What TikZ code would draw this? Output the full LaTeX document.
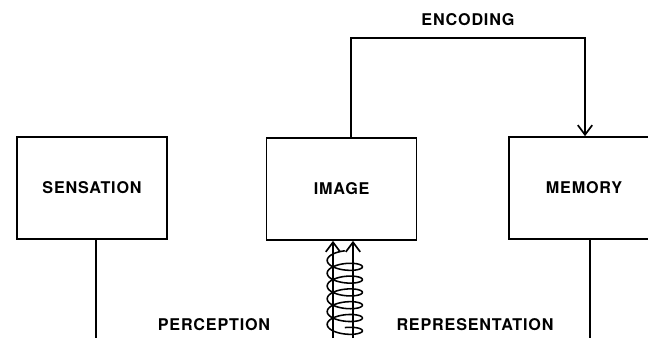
\documentclass[tikz,border=0pt]{standalone}
\usepackage{fontspec}
\setmainfont[LetterSpace=5]{TeX Gyre Heros}
\usetikzlibrary{arrows.meta, calc}

\begin{document}
\begin{tikzpicture}[>={Straight Barb[length=2.4mm,width=3.6mm]}, line width=1.2pt,
    box/.style={draw, minimum width=3.75cm, minimum height=2.55cm,
      font=\bfseries\fontsize{11.5}{13}\selectfont},
    lbl/.style={font=\bfseries\fontsize{11.5}{13}\selectfont}]
  \useasboundingbox (0,0) rectangle (16.2,8.45);

  % Die drei Kästen
  \node[box] (sens) at (2.3,3.75) {SENSATION};
  \node[box] (img) at (8.54,3.725) {IMAGE};
  \node[box] (mem) at (14.6,3.75) {MEMORY};

  % Hilfspunkte für die Leitungen
  \coordinate (s-end) at (2.4,0);
  \coordinate (m-end) at (14.75,0);
  \coordinate (enc-l) at (8.775,7.5);
  \coordinate (enc-r) at (14.625,7.5);
  \coordinate (c1) at (8.325,0);
  \coordinate (c2) at (8.825,0);

  % Leitungen nach unten
  \draw (sens.south -| s-end) -- (s-end);
  \draw (mem.south -| m-end) -- (m-end);

  % Kodierung: Bild -> Gedächtnis
  \draw[->] (img.north -| enc-l) -- (enc-l) -- (enc-r) -- (mem.north -| enc-r);
  \node[lbl] (enc) at (11.7,7.95) {ENCODING};

  % Doppelpfeil mit Wendel
  \draw[->] (c1) -- (img.south -| c1);
  \draw[->] (c2) -- (img.south -| c2);
  \draw[line width=1.1pt, domain=90:2250, samples=300, smooth, variable=\t]
    plot ({8.62+0.44*cos(\t)}, {2.1-0.32*\t/360+0.16*sin(\t)});

  % Beschriftungen unten
  \node[lbl] (perc) at (5.35,0.325) {PERCEPTION};
  \node[lbl] (repr) at (11.875,0.325) {REPRESENTATION};
\end{tikzpicture}
\end{document}
